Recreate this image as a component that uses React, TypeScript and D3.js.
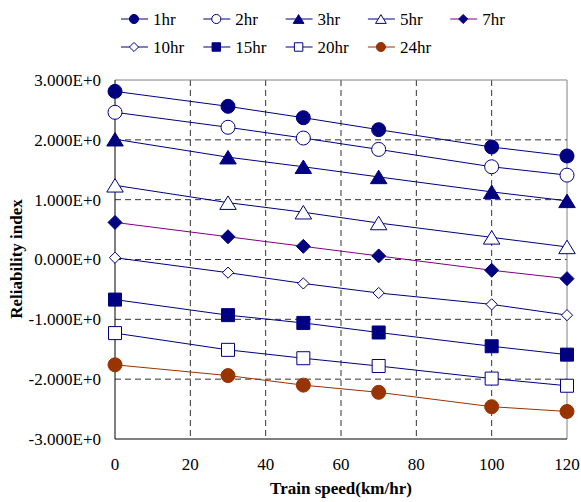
import React from "react";
import * as d3 from "d3";

const speeds = [0, 30, 50, 70, 100, 120];
const xTicks = [0, 20, 40, 60, 80, 100, 120];
const yTicks = [-3, -2, -1, 0, 1, 2, 3];

const seriesNames = ["1hr", "2hr", "3hr", "5hr", "7hr", "10hr", "15hr", "20hr", "24hr"];
const hr1 = [2.81, 2.56, 2.37, 2.17, 1.88, 1.73];
const hr2 = [2.46, 2.21, 2.03, 1.84, 1.55, 1.41];
const hr3 = [2.01, 1.71, 1.55, 1.38, 1.13, 0.98];
const hr5 = [1.24, 0.95, 0.79, 0.61, 0.37, 0.21];
const hr7 = [0.62, 0.38, 0.22, 0.06, -0.18, -0.32];
const hr10 = [0.03, -0.22, -0.4, -0.56, -0.75, -0.93];
const hr15 = [-0.67, -0.93, -1.06, -1.22, -1.45, -1.59];
const hr20 = [-1.23, -1.51, -1.65, -1.78, -1.99, -2.11];
const hr24 = [-1.76, -1.94, -2.1, -2.22, -2.46, -2.54];

const NAVY = "#000080";
const PURPLE = "#800080";
const BROWN = "#993300";

type Shape = "circle" | "triangle" | "diamond" | "square";
const series = [
  { name: seriesNames[0], values: hr1, shape: "circle", filled: true, line: NAVY, mark: NAVY },
  { name: seriesNames[1], values: hr2, shape: "circle", filled: false, line: NAVY, mark: NAVY },
  { name: seriesNames[2], values: hr3, shape: "triangle", filled: true, line: NAVY, mark: NAVY },
  { name: seriesNames[3], values: hr5, shape: "triangle", filled: false, line: NAVY, mark: NAVY },
  { name: seriesNames[4], values: hr7, shape: "diamond", filled: true, line: PURPLE, mark: NAVY },
  { name: seriesNames[5], values: hr10, shape: "diamond", filled: false, line: NAVY, mark: NAVY, small: true },
  { name: seriesNames[6], values: hr15, shape: "square", filled: true, line: NAVY, mark: NAVY },
  { name: seriesNames[7], values: hr20, shape: "square", filled: false, line: NAVY, mark: NAVY },
  { name: seriesNames[8], values: hr24, shape: "circle", filled: true, line: BROWN, mark: BROWN },
] as { name: string; values: number[]; shape: Shape; filled: boolean; line: string; mark: string; small?: boolean }[];

function markerPath(shape: Shape, x: number, y: number, s: number) {
  const p = d3.path();
  if (shape === "circle") {
    p.arc(x, y, s, 0, Math.PI * 2);
  } else if (shape === "square") {
    p.rect(x - s, y - s, s * 2, s * 2);
  } else if (shape === "diamond") {
    p.moveTo(x, y - s);
    p.lineTo(x + s, y);
    p.lineTo(x, y + s);
    p.lineTo(x - s, y);
    p.closePath();
  } else {
    p.moveTo(x, y - s * 0.9);
    p.lineTo(x + s * 1.1, y + s * 0.9);
    p.lineTo(x - s * 1.1, y + s * 0.9);
    p.closePath();
  }
  return p.toString();
}

const markerSize: Record<Shape, number> = { circle: 7, square: 6.5, diamond: 7, triangle: 7.5 };

const Marker = ({ shape, x, y, filled, color, scale = 1, small = false }: any) => (
  <path
    d={markerPath(shape, x, y, markerSize[shape as Shape] * scale * (small ? 0.8 : 1))}
    fill={filled ? color : "#fff"}
    stroke={color}
    strokeWidth={1}
  />
);

const FONT = "Liberation Serif, DejaVu Serif, Noto Serif, serif";

export default function App() {
  const width = 581;
  const height = 502;
  const m = { top: 80, right: 14, bottom: 63, left: 115 };
  const x = d3.scaleLinear().domain([0, 120]).range([m.left, width - m.right]);
  const y = d3.scaleLinear().domain([-3, 3]).range([height - m.bottom, m.top]);
  const line = d3
    .line<number>()
    .x((_, i) => x(speeds[i]))
    .y((d) => y(d));

  return (
    <svg
      width={width}
      height={height}
      style={{ position: "absolute", left: 0, top: 0, background: "#fff" }}
    >
      {/* grid */}
      {xTicks.slice(1, -1).map((t) => (
        <line key={"gx" + t} x1={x(t)} x2={x(t)} y1={y(3)} y2={y(-3)} stroke="#333" strokeDasharray="6,4" />
      ))}
      {yTicks.slice(1, -1).map((t) => (
        <line key={"gy" + t} x1={x(0)} x2={x(120)} y1={y(t)} y2={y(t)} stroke="#333" strokeDasharray="6,4" />
      ))}
      {/* frame */}
      <line x1={x(0)} x2={x(120)} y1={y(3)} y2={y(3)} stroke="#808080" />
      <line x1={x(120)} x2={x(120)} y1={y(3)} y2={y(-3)} stroke="#808080" />
      <line x1={x(0)} x2={x(0)} y1={y(3)} y2={y(-3)} stroke="#000" />
      <line x1={x(0)} x2={x(120)} y1={y(-3)} y2={y(-3)} stroke="#000" />

      {/* tick labels */}
      {yTicks.map((t) => (
        <text key={"yt" + t} x={x(0) - 14} y={y(t)} dy="0.35em" textAnchor="end" fontSize={17} fontFamily={FONT}>
          {`${t.toFixed(3)}E+0`}
        </text>
      ))}
      {xTicks.map((t) => (
        <text key={"xt" + t} x={x(t)} y={470} textAnchor="middle" fontSize={17} fontFamily={FONT}>
          {t}
        </text>
      ))}

      {/* series */}
      {series.map((s) => (
        <g key={s.name}>
          <path d={line(s.values) || ""} fill="none" stroke={s.line} strokeWidth={1} />
          {s.values.map((v, i) => (
            <Marker key={i} shape={s.shape} x={x(speeds[i])} y={y(v)} filled={s.filled} color={s.mark} small={s.small} />
          ))}
        </g>
      ))}

      {/* legend */}
      {series.map((s, i) => {
        const cx = 134 + (i % 5) * 82.3;
        const cy = i < 5 ? 19 : 47;
        return (
          <g key={"lg" + s.name}>
            <line x1={cx - 13} x2={cx + 14} y1={cy} y2={cy} stroke={s.line} />
            <Marker shape={s.shape} x={cx} y={cy} filled={s.filled} color={s.mark} scale={0.65} />
            <text x={cx + 19} y={cy + 6} fontSize={17} fontFamily={FONT}>
              {s.name}
            </text>
          </g>
        );
      })}

      {/* axis titles */}
      <text x={341} y={494} textAnchor="middle" fontSize={17} fontWeight="bold" fontFamily={FONT}>
        Train speed(km/hr)
      </text>
      <text transform="translate(22,259) rotate(-90)" textAnchor="middle" fontSize={17} fontWeight="bold" fontFamily={FONT}>
        Reliability index
      </text>
    </svg>
  );
}
